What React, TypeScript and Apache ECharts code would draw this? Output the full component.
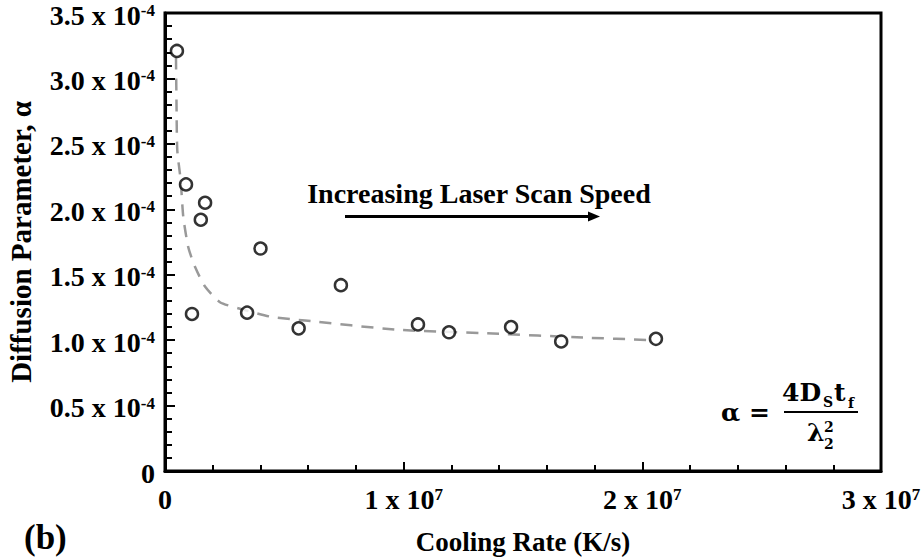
import React, { useEffect, useRef } from "react";
import * as echarts from "echarts";

// Measured points: cooling rate (K/s) vs diffusion parameter alpha
const coolingRate = [0.5e6, 0.88e6, 1.68e6, 1.5e6, 1.13e6, 4.0e6, 3.44e6, 5.6e6, 7.37e6, 10.6e6, 11.9e6, 14.5e6, 16.6e6, 20.57e6];
const alpha = [3.21e-4, 2.19e-4, 2.05e-4, 1.92e-4, 1.2e-4, 1.7e-4, 1.21e-4, 1.09e-4, 1.42e-4, 1.12e-4, 1.06e-4, 1.1e-4, 0.99e-4, 1.01e-4];

// Dashed fitted trend line
const fitRate = [0.46e6, 0.48e6, 0.515e6, 0.658e6, 0.767e6, 0.976e6, 1.257e6, 1.676e6, 2.304e6, 3.142e6, 4.4e6, 5.866e6, 9.72e6, 13.74e6, 17.5e6, 20.45e6];
const fitAlpha = [3.16e-4, 2.84e-4, 2.45e-4, 2.22e-4, 1.94e-4, 1.71e-4, 1.56e-4, 1.41e-4, 1.29e-4, 1.24e-4, 1.18e-4, 1.15e-4, 1.08e-4, 1.05e-4, 1.02e-4, 1.0e-4];

// Axis tick labels
const yTickMantissa = ["0", "0.5", "1.0", "1.5", "2.0", "2.5", "3.0", "3.5"];
const xTickMantissa = ["0", "1", "2", "3"];

const SERIF = "'Liberation Serif', 'Times New Roman', serif";
const MATH = "'DejaVu Serif', serif";

export default function App() {
  const ref = useRef<HTMLDivElement>(null);

  useEffect(() => {
    if (!ref.current) return;
    const chart = echarts.init(ref.current, undefined, { renderer: "svg" });

    const rich = {
      b: { fontFamily: SERIF, fontWeight: "bold", fontSize: 28, color: "#000", lineHeight: 30 },
      s: { fontFamily: SERIF, fontWeight: "bold", fontSize: 17, color: "#000", verticalAlign: "top", lineHeight: 17, padding: [2, 0, 0, 0] },
    };

    const pointData = coolingRate.map((x, i) => [x, alpha[i]]);
    const fitData = fitRate.map((x, i) => [x, fitAlpha[i]]);

    const option: any = {
      animation: false,
      backgroundColor: "#fff",
      grid: {
        left: 165,
        top: 13,
        right: 41,
        bottom: 88,
        containLabel: false,
        outerBoundsMode: "none",
        show: true,
        borderColor: "#000",
        borderWidth: 3,
        backgroundColor: "transparent",
      },
      xAxis: {
        type: "value",
        min: 0,
        max: 3e7,
        interval: 1e7,
        name: "Cooling Rate (K/s)",
        nameLocation: "middle",
        nameGap: 57,
        nameTextStyle: { fontFamily: SERIF, fontWeight: "bold", fontSize: 27, lineHeight: 28, color: "#000" },
        axisLine: { show: true, lineStyle: { color: "#000", width: 3 } },
        axisTick: { show: true, inside: true, length: 9, lineStyle: { color: "#000", width: 2 } },
        minorTick: { show: true, splitNumber: 5, length: 6, lineStyle: { color: "#000", width: 2 } },
        splitLine: { show: false },
        axisLabel: {
          margin: 13,
          rich: rich,
          formatter: (v: number) => {
            const i = Math.round(v / 1e7);
            const m = xTickMantissa[i];
            if (i === 0) return "{b|0}";
            return "{b|" + m + " x 10}{s|7}";
          },
        },
      },
      yAxis: {
        type: "value",
        min: 0,
        max: 3.5e-4,
        interval: 0.5e-4,
        name: "Diffusion Parameter, α",
        nameLocation: "middle",
        nameRotate: 90,
        nameGap: 130,
        nameTextStyle: { fontFamily: SERIF, fontWeight: "bold", fontSize: 29, color: "#000" },
        axisLine: { show: true, lineStyle: { color: "#000", width: 3 } },
        axisTick: { show: true, inside: true, length: 10, lineStyle: { color: "#000", width: 2 } },
        minorTick: { show: true, splitNumber: 5, length: 7, lineStyle: { color: "#000", width: 2 } },
        splitLine: { show: false },
        axisLabel: {
          margin: 10,
          rich: rich,
          padding: [4, 0, 0, 0],
          formatter: (v: number) => {
            const i = Math.round(v / 0.5e-4);
            const m = yTickMantissa[i];
            if (i === 0) return "{b|0}";
            return "{b|" + m + " x 10}{s|-4}";
          },
        },
      },
      series: [
        {
          type: "line",
          data: fitData,
          showSymbol: false,
          symbol: "none",
          smooth: 0.2,
          z: 2,
          lineStyle: { color: "#999", width: 2.5, type: [12, 9] },
        },
        {
          type: "scatter",
          data: pointData,
          symbol: "circle",
          symbolSize: 12,
          z: 3,
          itemStyle: { color: "#fff", borderColor: "#000", borderWidth: 2.5 },
        },
      ],
      graphic: [
        {
          type: "text",
          x: 479,
          y: 193,
          style: {
            text: "Increasing Laser Scan Speed",
            font: "bold 28px " + SERIF,
            fill: "#000",
            textAlign: "center",
            textVerticalAlign: "middle",
          },
        },
        {
          type: "line",
          shape: { x1: 345, y1: 216.5, x2: 590, y2: 216.5 },
          style: { stroke: "#000", lineWidth: 3 },
        },
        {
          type: "polygon",
          shape: { points: [[588, 211.5], [600, 216.5], [588, 221.5]] },
          style: { fill: "#000" },
        },
        {
          type: "text",
          x: 24,
          y: 537,
          style: { text: "(b)", font: "bold 35px " + SERIF, fill: "#000", textAlign: "left", textVerticalAlign: "middle" },
        },
        // formula: alpha = 4 D_S t_f / lambda_2^2
        {
          type: "text",
          x: 721,
          y: 412,
          style: { text: "α =", font: "bold 25px " + MATH, fill: "#000", textAlign: "left", textVerticalAlign: "middle" },
        },
        {
          type: "line",
          shape: { x1: 784, y1: 412, x2: 858, y2: 412 },
          style: { stroke: "#000", lineWidth: 2 },
        },
        {
          type: "text",
          x: 782,
          y: 405,
          style: { text: "4D", font: "bold 25px " + MATH, fill: "#000", textAlign: "left", textVerticalAlign: "bottom" },
        },
        {
          type: "text",
          x: 823,
          y: 409,
          style: { text: "S", font: "bold 14px " + MATH, fill: "#000", textAlign: "left", textVerticalAlign: "bottom" },
        },
        {
          type: "text",
          x: 834,
          y: 405,
          style: { text: "t", font: "bold 25px " + MATH, fill: "#000", textAlign: "left", textVerticalAlign: "bottom" },
        },
        {
          type: "text",
          x: 848,
          y: 410,
          style: { text: "f", font: "bold 14px " + MATH, fill: "#000", textAlign: "left", textVerticalAlign: "bottom" },
        },
        {
          type: "text",
          x: 807,
          y: 445,
          style: { text: "λ", font: "bold 25px " + MATH, fill: "#000", textAlign: "left", textVerticalAlign: "bottom" },
        },
        {
          type: "text",
          x: 824,
          y: 434,
          style: { text: "2", font: "bold 14px " + MATH, fill: "#000", textAlign: "left", textVerticalAlign: "bottom" },
        },
        {
          type: "text",
          x: 824,
          y: 451,
          style: { text: "2", font: "bold 14px " + MATH, fill: "#000", textAlign: "left", textVerticalAlign: "bottom" },
        },
      ],
    };

    chart.setOption(option);
    return () => chart.dispose();
  }, []);

  return (
    <div
      ref={ref}
      style={{ position: "fixed", left: 0, top: 0, width: 922, height: 559, background: "#fff" }}
    />
  );
}
